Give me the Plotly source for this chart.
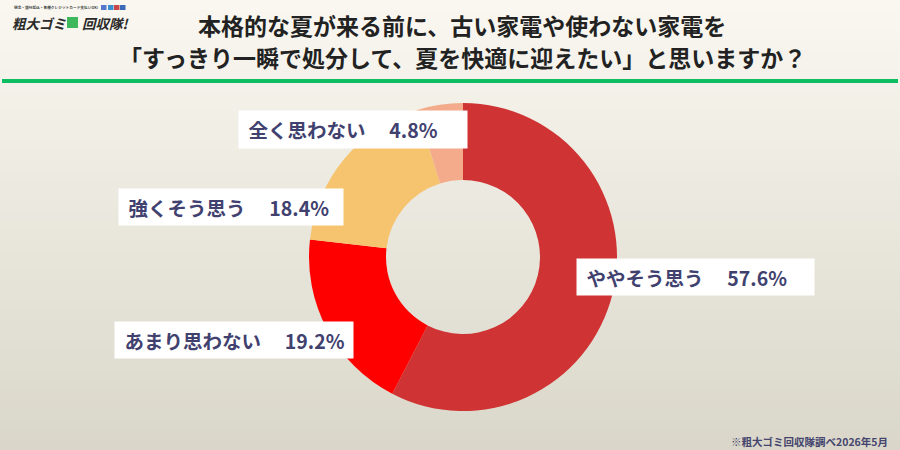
import plotly.graph_objects as go

# survey results (clockwise from 12 o'clock)
answers = ["ややそう思う", "あまり思わない", "強くそう思う", "全く思わない"]
shares = [57.6, 19.2, 18.4, 4.8]
slice_colors = ["#cf3333", "#ff0000", "#f6c46f", "#f3ab8b"]

title_lines = [
    "本格的な夏が来る前に、古い家電や使わない家電を",
    "「すっきり一瞬で処分して、夏を快適に迎えたい」と思いますか？",
]
source_note = "※粗大ゴミ回収隊調べ2026年5月"

# label boxes in pixels: left, top, width, height
label_boxes = {
    "ややそう思う": (576, 258, 237, 36),
    "あまり思わない": (114, 321, 238, 36),
    "強くそう思う": (118, 188, 224, 36),
    "全く思わない": (238, 110, 228, 37),
}

W, H = 900, 450
FONT = "Noto Sans CJK JP"
LABEL_COLOR = "#41416f"


def px_x(x):
    return x / W


def px_y(y):
    return 1 - y / H


def mix(c1, c2, t):
    a = [int(c1[i:i + 2], 16) for i in (1, 3, 5)]
    b = [int(c2[i:i + 2], 16) for i in (1, 3, 5)]
    return "#%02x%02x%02x" % tuple(round(a[k] + (b[k] - a[k]) * t) for k in range(3))


fig = go.Figure()

cx, cy, r = 463, 257, 154
fig.add_trace(go.Pie(
    labels=answers,
    values=shares,
    marker=dict(colors=slice_colors, line=dict(width=0)),
    hole=0.5,
    sort=False,
    direction="clockwise",
    rotation=0,
    textinfo="none",
    hoverinfo="label+percent",
    showlegend=False,
    domain=dict(x=[px_x(cx - r), px_x(cx + r)], y=[px_y(cy + r), px_y(cy - r)]),
))

shapes = []
# background gradient, light cream to greyish beige
bands = 45
for i in range(bands):
    shapes.append(dict(
        type="rect", xref="paper", yref="paper", layer="below",
        x0=0, x1=1, y0=1 - (i + 1) / bands, y1=1 - i / bands,
        fillcolor=mix("#f9f7f0", "#dad7ca", i / (bands - 1)),
        line=dict(width=0),
    ))
# green rule under the title
shapes.append(dict(type="line", xref="paper", yref="paper",
                   x0=px_x(2), x1=px_x(898), y0=px_y(81), y1=px_y(81),
                   line=dict(color="#0dbd62", width=4)))
# logo bits: green truck badge and card icons
shapes.append(dict(type="rect", xref="paper", yref="paper",
                   x0=px_x(67), x1=px_x(78), y0=px_y(28), y1=px_y(17),
                   fillcolor="#3db85a", line=dict(width=0)))
for x0, c in [(101, "#5577cc"), (108, "#3a8fd0"), (114, "#c84848"), (120, "#3a6ab8")]:
    shapes.append(dict(type="rect", xref="paper", yref="paper",
                       x0=px_x(x0), x1=px_x(x0 + 5.5), y0=px_y(10), y1=px_y(5),
                       fillcolor=c, line=dict(width=0)))

annotations = []
for i, line in enumerate(title_lines):
    annotations.append(dict(
        text="<b>%s</b>" % line, x=px_x(462), y=px_y(25 + 32 * i),
        xref="paper", yref="paper", xanchor="center", yanchor="middle",
        showarrow=False, font=dict(family=FONT, size=23, color="#222222"),
    ))

for name, val in zip(answers, shares):
    left, top, bw, bh = label_boxes[name]
    pad = 5
    annotations.append(dict(
        text="<b>\u00a0%s　\u00a0%.1f%%</b>" % (name, val),
        x=px_x(left), y=px_y(top), xref="paper", yref="paper",
        xanchor="left", yanchor="top", align="left", valign="middle",
        width=bw - 2 * pad, height=bh - 2 * pad, borderpad=pad,
        bgcolor="white", showarrow=False,
        font=dict(family=FONT, size=19.5, color=LABEL_COLOR),
    ))

annotations.append(dict(
    text="<b>%s</b>" % source_note, x=px_x(890), y=px_y(441),
    xref="paper", yref="paper", xanchor="right", yanchor="middle",
    showarrow=False, font=dict(family=FONT, size=10.5, color="#45456e"),
))

# logo text
annotations.append(dict(
    text="<b>現金・銀行振込・各種クレジットカード支払いOK!</b>", x=px_x(12), y=px_y(7.5),
    xref="paper", yref="paper", xanchor="left", yanchor="middle",
    showarrow=False, font=dict(family=FONT, size=3.7, color="#444444"),
))
annotations.append(dict(
    text="<b><i>粗大ゴミ</i></b>", x=px_x(10), y=px_y(22.5),
    xref="paper", yref="paper", xanchor="left", yanchor="middle",
    showarrow=False, font=dict(family=FONT, size=13.5, color="#2a2a2a"),
))
annotations.append(dict(
    text="<b><i>回収隊!</i></b>", x=px_x(80), y=px_y(22.5),
    xref="paper", yref="paper", xanchor="left", yanchor="middle",
    showarrow=False, font=dict(family=FONT, size=13.5, color="#2a2a2a"),
))

fig.update_layout(
    width=W, height=H,
    margin=dict(l=0, r=0, t=0, b=0),
    paper_bgcolor="#eeebe2",
    plot_bgcolor="rgba(0,0,0,0)",
    shapes=shapes,
    annotations=annotations,
    showlegend=False,
)

# drop the page's default body margin so the 900x450 figure fills the window
fig.write_html("out.html", config={"displayModeBar": False},
               post_script="document.body.style.margin='0';")
